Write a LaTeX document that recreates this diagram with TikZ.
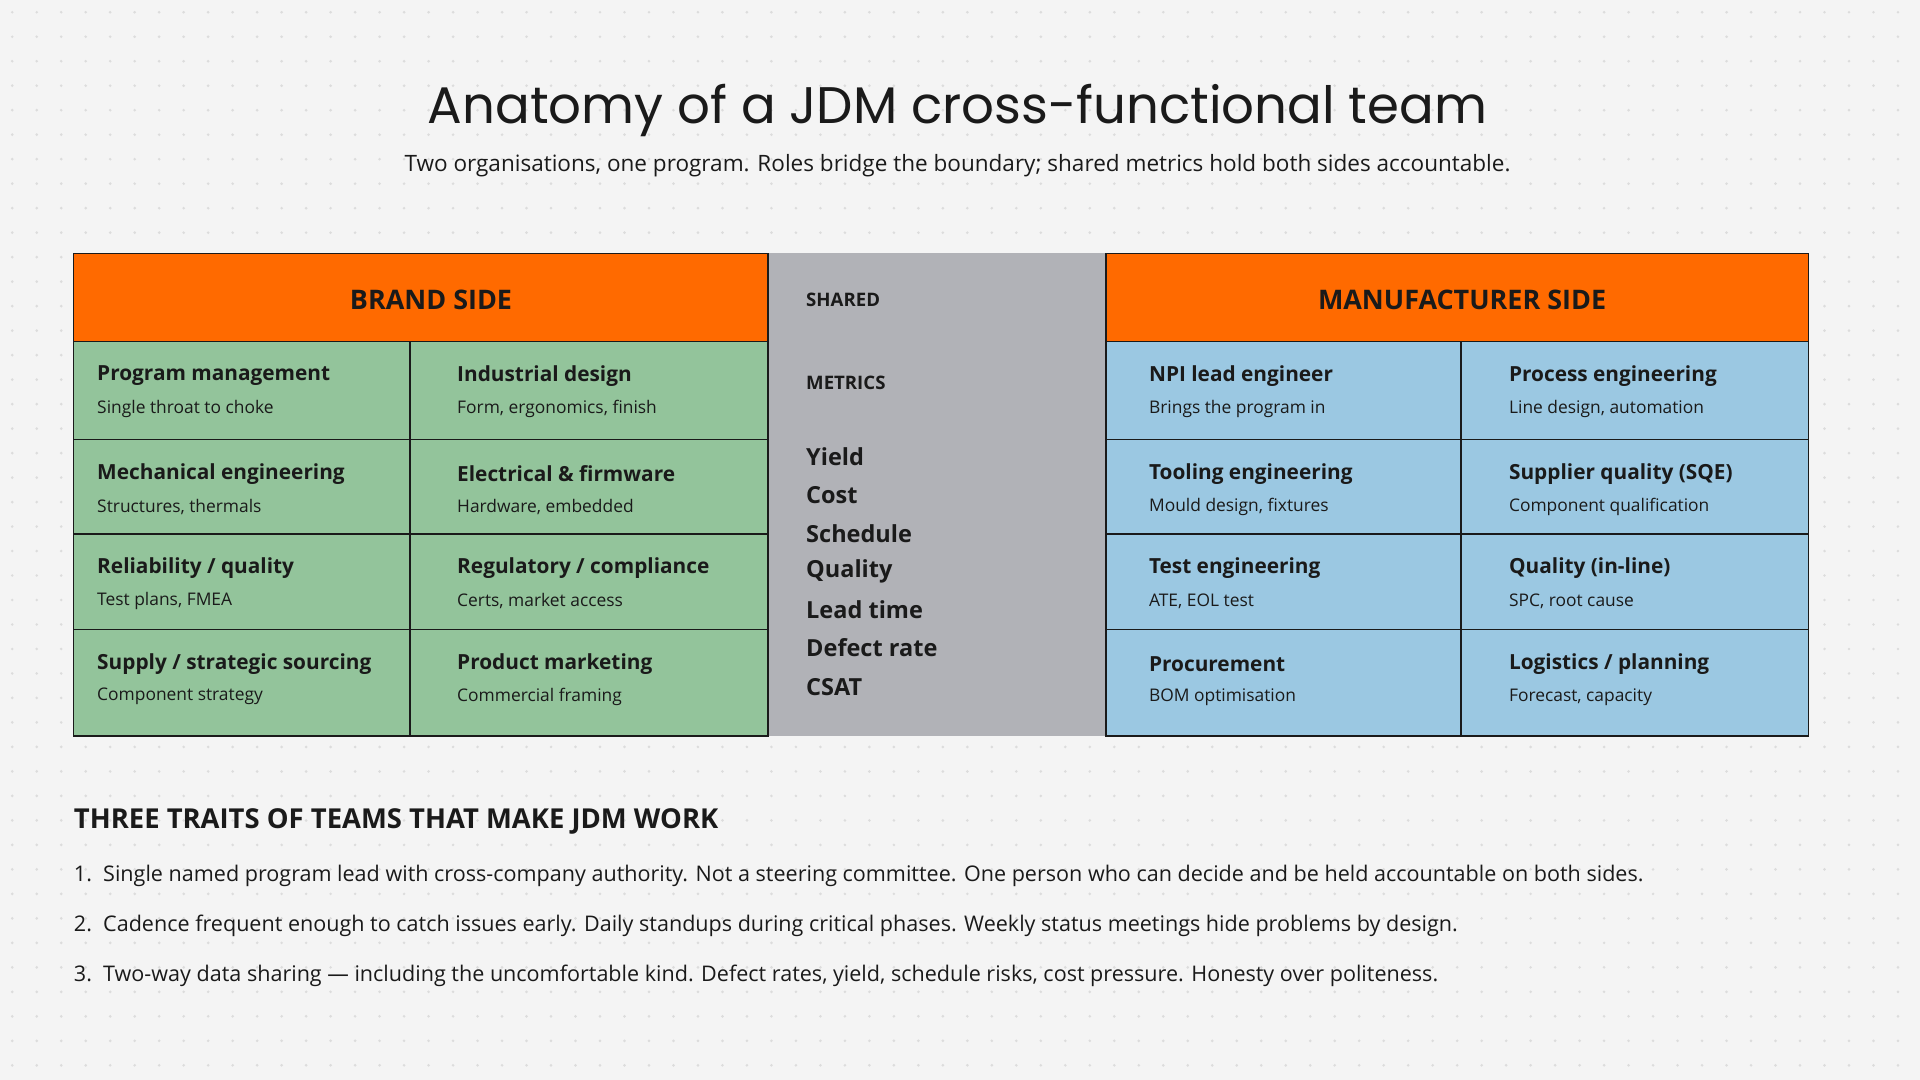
\documentclass[tikz,border=0pt]{standalone}
\usepackage{fontspec}
\setmainfont{Open Sans}
\newfontfamily\titlefont{Poppins}
\usetikzlibrary{positioning}
\definecolor{bgcol}{HTML}{F4F4F4}
\definecolor{dotcol}{HTML}{DCDCDC}
\definecolor{headcol}{HTML}{FF6A00}
\definecolor{brandcol}{HTML}{93C49B}
\definecolor{mfgcol}{HTML}{9BC8E2}
\definecolor{sharedcol}{HTML}{B1B2B7}
\definecolor{inkcol}{HTML}{1A1A1A}
\tikzset{
  cell/.style={draw=inkcol, line width=0.7pt},
  role/.style={anchor=west, font=\fontsize{8.5}{10}\selectfont\bfseries, text=inkcol, inner sep=0pt},
  note/.style={anchor=west, font=\fontsize{7.1}{9}\selectfont, text=inkcol, inner sep=0pt},
  headtxt/.style={font=\fontsize{11}{13}\selectfont\bfseries, text=inkcol},
  metric/.style={anchor=west, font=\fontsize{9.6}{11}\selectfont\bfseries, text=inkcol, inner sep=0pt},
  trait/.style={anchor=west, font=\fontsize{8.8}{10}\selectfont, text=inkcol, inner sep=0pt}
}
\begin{document}
\begin{tikzpicture}[x=0.5pt, y=-0.5pt]
% background with dot grid
\fill[bgcol] (0,0) rectangle (1568,882);
\useasboundingbox (0,0) rectangle (1568,882);
\foreach \i in {0,...,78} {
  \foreach \j in {0,...,44} {
    \fill[dotcol] (10+\i*20, 10+\j*20) circle (0.6pt);
  }
}

% title
\node[font=\titlefont\fontsize{21}{25}\selectfont, text=inkcol] (title) at (782,90) {Anatomy of a JDM cross-functional team};
\node[font=\fontsize{9.2}{11}\selectfont, text=inkcol] (subtitle) at (782,135) {Two organisations, one program. Roles bridge the boundary; shared metrics hold both sides accountable.};

% shared column
\fill[sharedcol] (627,207) rectangle (903,601);

% headers
\draw[cell, fill=headcol] (60,207) rectangle (627,279);
\node[headtxt] (brand) at (352,245) {BRAND SIDE};
\draw[cell, fill=headcol] (903,207) rectangle (1477,279);
\node[headtxt] (mfg) at (1194,245) {MANUFACTURER SIDE};

% brand cells
\foreach \ya/\yb/\ra/\na/\rb/\nb [count=\k] in {
  279/359/{Program management}/{Single throat to choke}/{Industrial design}/{Form, ergonomics, finish},
  359/436/{Mechanical engineering}/{Structures, thermals}/{Electrical \& firmware}/{Hardware, embedded},
  436/514/{Reliability {/} quality}/{Test plans, FMEA}/{Regulatory {/} compliance}/{Certs, market access},
  514/601/{Supply {/} strategic sourcing}/{Component strategy}/{Product marketing}/{Commercial framing}} {
  \draw[cell, fill=brandcol] (60,\ya) rectangle (335,\yb);
  \draw[cell, fill=brandcol] (335,\ya) rectangle (627,\yb);
  \node[role] (bl\k) at (79,\ya+28) {\ra};
  \node[note] (bln\k) at (79,\ya+55) {\na};
  \node[role] (br\k) at (373,\ya+28) {\rb};
  \node[note] (brn\k) at (373,\ya+55) {\nb};
}

% manufacturer cells
\foreach \ya/\yb/\ra/\na/\rb/\nb [count=\k] in {
  279/359/{NPI lead engineer}/{Brings the program in}/{Process engineering}/{Line design, automation},
  359/436/{Tooling engineering}/{Mould design, fixtures}/{Supplier quality (SQE)}/{Component qualification},
  436/514/{Test engineering}/{ATE, EOL test}/{Quality (in-line)}/{SPC, root cause},
  514/601/{Procurement}/{BOM optimisation}/{Logistics {/} planning}/{Forecast, capacity}} {
  \draw[cell, fill=mfgcol] (903,\ya) rectangle (1193,\yb);
  \draw[cell, fill=mfgcol] (1193,\ya) rectangle (1477,\yb);
  \node[role] (ml\k) at (938,\ya+28) {\ra};
  \node[note] (mln\k) at (938,\ya+55) {\na};
  \node[role] (mr\k) at (1232,\ya+28) {\rb};
  \node[note] (mrn\k) at (1232,\ya+55) {\nb};
}

% shared metrics
\node[anchor=west, font=\fontsize{7.6}{9}\selectfont\bfseries, text=inkcol, inner sep=0pt] (shared) at (658,245) {SHARED};
\node[anchor=west, font=\fontsize{7.6}{9}\selectfont\bfseries, text=inkcol, inner sep=0pt] (metrics) at (658,313) {METRICS};
\foreach \m/\y [count=\k] in {Yield/373, Cost/404, Schedule/436, Quality/467, Lead time/498, Defect rate/529, CSAT/561}
  \node[metric] (m\k) at (658,\y) {\m};

% traits
\node[anchor=west, font=\fontsize{11.2}{13}\selectfont\bfseries, text=inkcol, inner sep=0pt] (traits) at (60,671) {THREE TRAITS OF TEAMS THAT MAKE JDM WORK};
\node[trait] (t1) at (60,715) {1.\ \ Single named program lead with cross-company authority. Not a steering committee. One person who can decide and be held accountable on both sides.};
\node[trait] (t2) at (60,756) {2.\ \ Cadence frequent enough to catch issues early. Daily standups during critical phases. Weekly status meetings hide problems by design.};
\node[trait] (t3) at (60,797) {3.\ \ Two-way data sharing — including the uncomfortable kind. Defect rates, yield, schedule risks, cost pressure. Honesty over politeness.};
\end{tikzpicture}
\end{document}
